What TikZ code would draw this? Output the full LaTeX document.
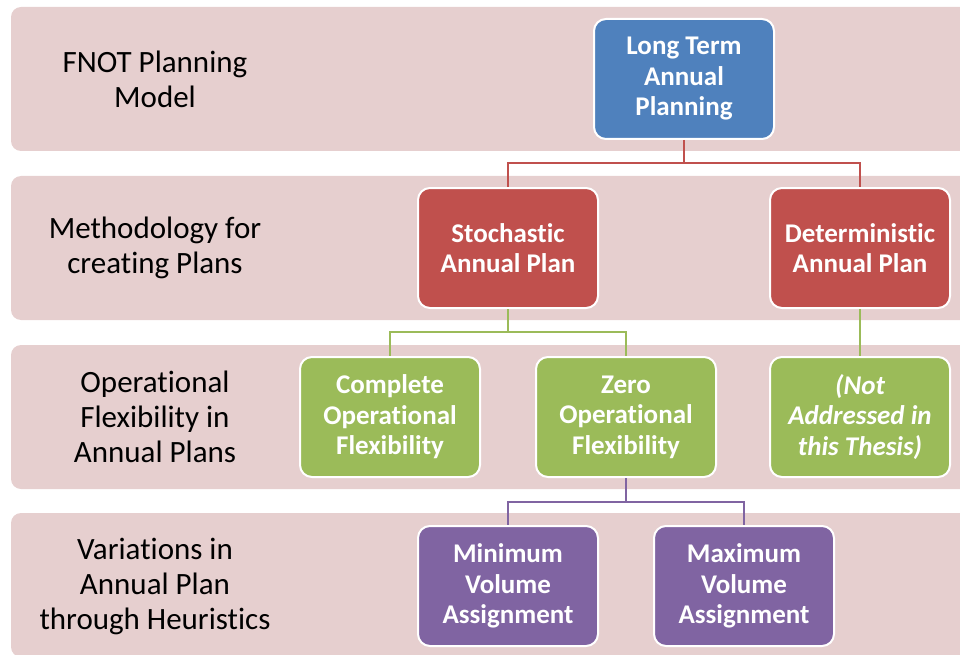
\documentclass[tikz,border=0pt]{standalone}
\usepackage{fontspec}
\setmainfont{Carlito}[Ligatures=NoCommon]
\definecolor{bandfill}{RGB}{230,207,207}
\definecolor{cblue}{RGB}{79,129,189}
\definecolor{cred}{RGB}{192,80,77}
\definecolor{cgreen}{RGB}{155,187,89}
\definecolor{cpurple}{RGB}{128,100,162}
\tikzset{
  band/.style={fill=bandfill, rounded corners=10pt},
  rowlabel/.style={align=center, text=black, font=\fontsize{31}{35}\selectfont, inner sep=0pt},
  box/.style={draw=white, line width=2pt, rounded corners=12pt, minimum width=180pt, minimum height=120pt,
    inner sep=0pt, align=center, text=white, font=\fontsize{27}{30.5}\selectfont\bfseries},
  bluebox/.style={box, fill=cblue},
  redbox/.style={box, fill=cred},
  greenbox/.style={box, fill=cgreen},
  purplebox/.style={box, fill=cpurple},
  conn/.style={line width=2.7pt},
}
\begin{document}
\begin{tikzpicture}[x=1pt, y=-1pt]
\useasboundingbox (0,0) rectangle (960,655);
\clip (0,0) rectangle (960,655);
% bands
\fill[band] (11,7) rectangle (990,151);
\fill[band] (11,176) rectangle (990,320);
\fill[band] (11,345) rectangle (990,489);
\fill[band] (11,513) rectangle (990,657);
% row labels
\node[rowlabel] (l1) at (155,79) {FNOT Planning\\Model};
\node[rowlabel] (l2) at (155,248) {Methodology for\\creating Plans};
\node[rowlabel] (l3) at (155,417) {Operational\\Flexibility in\\Annual Plans};
\node[rowlabel] (l4) at (155,586) {Variations in\\Annual Plan\\through Heuristics};
% junctions
\coordinate (j1) at (684,163);
\coordinate (j2) at (508,332);
\coordinate (j3) at (626,502);
% boxes
\node[bluebox] (lt) at (684,79) {Long Term\\Annual\\Planning};
\node[redbox] (sto) at (508,248) {Stochastic\\Annual Plan};
\node[redbox] (det) at (860,248) {Deterministic\\Annual Plan};
\node[greenbox] (comp) at (390,417) {Complete\\Operational\\Flexibility};
\node[greenbox] (zero) at (626,417) {Zero\\Operational\\Flexibility};
\node[greenbox, font=\fontsize{27}{30.5}\selectfont\bfseries\itshape] (na) at (860,417) {(Not\\Addressed in\\this Thesis)};
\node[purplebox] (minv) at (508,586) {Minimum\\Volume\\Assignment};
\node[purplebox] (maxv) at (744,586) {Maximum\\Volume\\Assignment};
% connectors
\draw[conn, cred] (lt.south) -- (j1) -| (sto.north);
\draw[conn, cred] (j1) -| (det.north);
\draw[conn, cgreen] (sto.south) -- (j2) -| (comp.north);
\draw[conn, cgreen] (j2) -| (zero.north);
\draw[conn, cgreen] (det.south) -- (na.north);
\draw[conn, cpurple] (zero.south) -- (j3) -| (minv.north);
\draw[conn, cpurple] (j3) -| (maxv.north);
\end{tikzpicture}
\end{document}
